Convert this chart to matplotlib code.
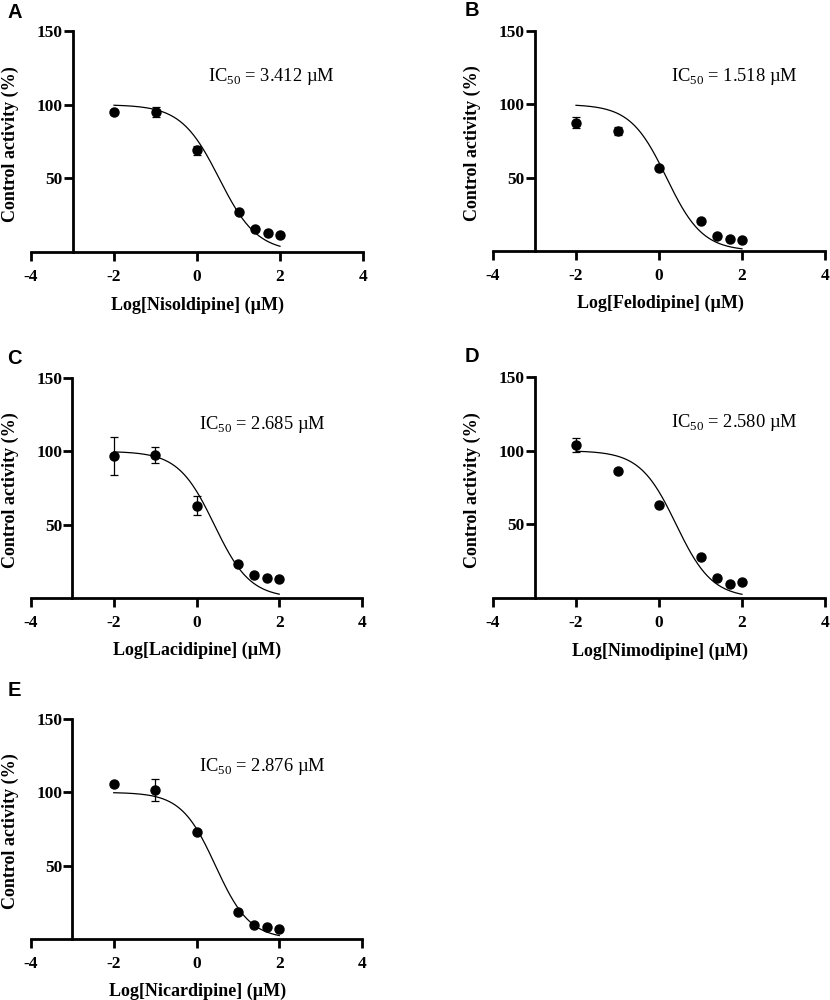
import matplotlib
matplotlib.use('Agg')
import matplotlib.pyplot as plt
import numpy as np

plt.rcParams['font.family'] = 'Liberation Serif'
plt.rcParams['mathtext.fontset'] = 'custom'
plt.rcParams['mathtext.rm'] = 'Liberation Serif'

# log concentration (uM)
log_conc = [-2, -1, 0, 1, 1.398, 1.699, 2]

panels = ['A', 'B', 'C', 'D', 'E']
drugs = ['Nisoldipine', 'Felodipine', 'Lacidipine', 'Nimodipine', 'Nicardipine']
ic50 = [3.412, 1.518, 2.685, 2.580, 2.876]
hill = [0.95, 1.0, 1.0, 1.0, 1.05]

activity = [
    [94.8, 95.2, 69.0, 26.9, 15.8, 12.9, 11.5],
    [87.5, 81.8, 56.7, 20.3, 10.3, 8.2, 7.3],
    [97.1, 97.3, 62.9, 23.0, 15.7, 13.9, 13.0],
    [103.9, 86.0, 63.1, 27.7, 13.6, 9.3, 10.7],
    [105.7, 101.6, 73.2, 18.4, 9.5, 8.0, 6.8],
]
errors = [
    [0, 3.4, 3.2, 0, 0, 0, 0],
    [3.8, 2.5, 0, 0, 0, 0, 0],
    [12.9, 5.5, 6.4, 0, 0, 0, 0],
    [5.0, 0, 0, 0, 0, 0, 0],
    [0, 7.3, 0, 0, 0, 0, 0],
]
# IC50 label position (data coords)
label_x = [0.27, 0.28, 0.06, 0.28, 0.06]
label_y = [119, 119, 118.5, 119, 117.3]

# axes boxes in pixels: left, top(150), right, bottom(0)
boxes = [
    (31, 31, 363, 252),
    (493, 31, 825, 251),
    (31, 378, 362, 598),
    (493, 377, 825, 598),
    (31, 719, 362, 939),
]
# panel letter centres in pixels
letter_pos = [(15, 12), (472, 11), (14, 359), (472, 357), (14, 691)]

W, H = 830, 1000
fig = plt.figure(figsize=(W / 100, H / 100), dpi=100)

for i in range(5):
    l, t, r, b = boxes[i]
    ax = fig.add_axes([l / W, 1 - b / H, (r - l) / W, (b - t) / H])
    ax.set_xlim(-4, 4)
    ax.set_ylim(0, 150)

    for s in ['top', 'right']:
        ax.spines[s].set_visible(False)
    ax.spines['left'].set_position(('data', -3))
    ax.spines['left'].set_bounds(0, 150)
    for s in ['left', 'bottom']:
        ax.spines[s].set_linewidth(2)

    ax.set_xticks([-4, -2, 0, 2, 4])
    ax.set_xticklabels(['-4', '-2', '0', '2', '4'])
    ax.set_yticks([50, 100, 150])
    ax.tick_params(axis='both', direction='out', length=6.5, width=2,
                   labelsize=12.5)
    ax.tick_params(axis='x', pad=6)
    ax.tick_params(axis='y', pad=0.5)
    for lab in ax.get_xticklabels() + ax.get_yticklabels():
        lab.set_fontweight('bold')

    # fitted curve
    xf = np.linspace(-2, 2, 200)
    yf = 100 / (1 + 10 ** ((xf - np.log10(ic50[i])) * hill[i]))
    ax.plot(xf, yf, color='black', lw=0.9, zorder=2)

    ax.errorbar(log_conc, activity[i], yerr=errors[i], fmt='none',
                ecolor='black', elinewidth=0.9, capsize=3.2, capthick=0.9,
                zorder=3, clip_on=False)
    ax.plot(log_conc, activity[i], 'o', color='black', ms=6.5, zorder=4,
            clip_on=False)

    ax.text(label_x[i], label_y[i],
            r'IC$_{\mathrm{50}}$ = %.3f µM' % ic50[i],
            fontsize=13.3, ha='left', va='center')

    ax.set_xlabel('Log[%s] (µM)' % drugs[i], fontsize=13, fontweight='bold')
    ax.set_ylabel('Control activity (%)', fontsize=13, fontweight='bold')
    ax.xaxis.set_label_coords(0.503, -0.2)
    ax.yaxis.set_label_coords(-0.035, 0.49)

    lx, ly = letter_pos[i]
    fig.text(lx / W, 1 - ly / H, panels[i],
             family='Liberation Sans', fontweight='bold', fontsize=14.5,
             ha='center', va='center')

fig.savefig('out.png', dpi=100)
